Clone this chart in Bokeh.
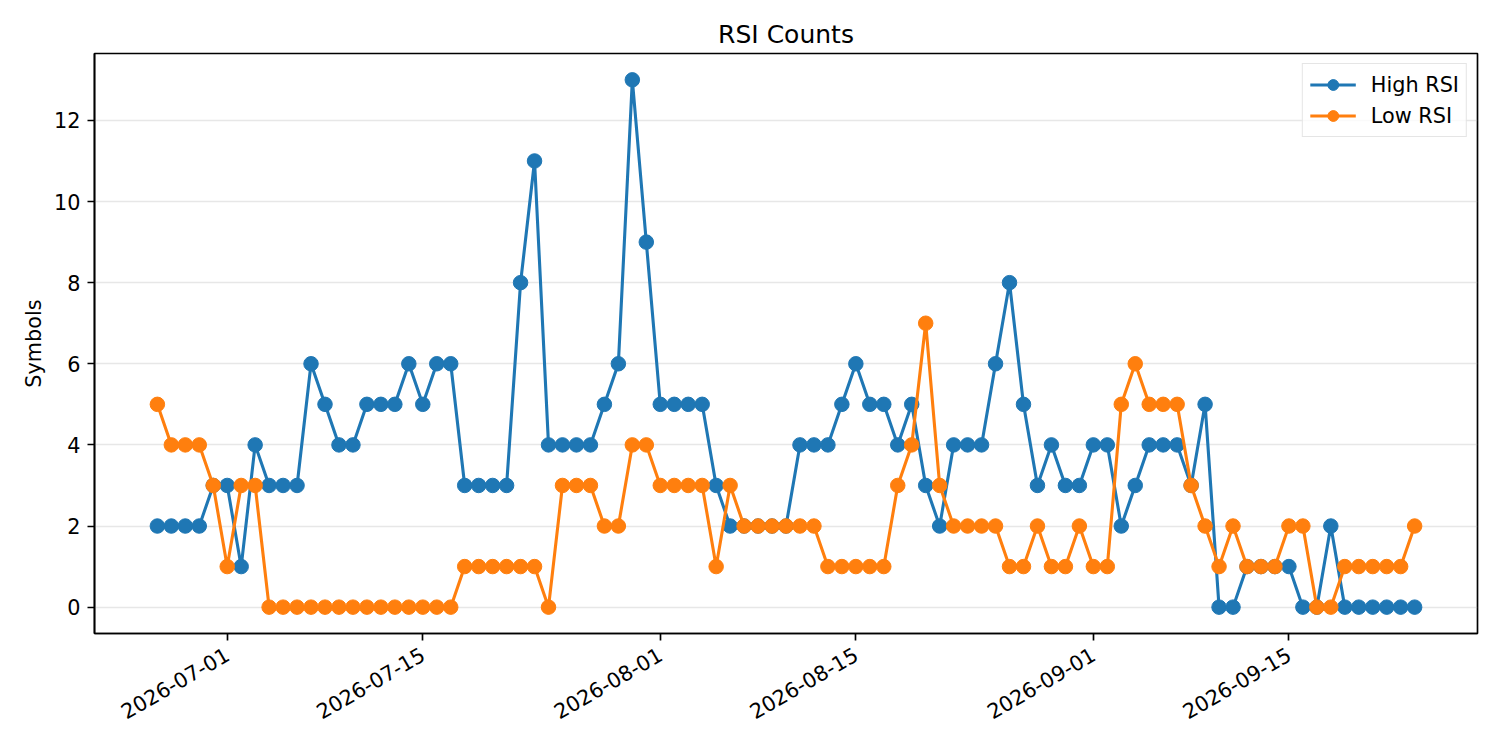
import pandas as pd
from math import pi
from bokeh.plotting import figure
from bokeh.models import FixedTicker, DatetimeTickFormatter, Range1d
from bokeh.embed import file_html
from bokeh.resources import INLINE

# daily counts starting on this date
start_date = "2026-06-26"

high_rsi = [2, 2, 2, 2, 3, 3, 1, 4, 3, 3, 3, 6, 5, 4, 4, 5, 5, 5, 6, 5, 6, 6,
            3, 3, 3, 3, 8, 11, 4, 4, 4, 4, 5, 6, 13, 9, 5, 5, 5, 5, 3, 2,
            2, 2, 2, 2, 4, 4, 4, 5, 6, 5, 5, 4, 5, 3, 2, 4, 4, 4, 6, 8, 5, 3, 4, 3,
            3, 4, 4, 2, 3, 4, 4, 4, 3, 5, 0, 0, 1, 1, 1, 1, 0, 0, 2, 0, 0, 0, 0, 0, 0]

low_rsi = [5, 4, 4, 4, 3, 1, 3, 3, 0, 0, 0, 0, 0, 0, 0, 0, 0, 0, 0, 0, 0, 0,
           1, 1, 1, 1, 1, 1, 0, 3, 3, 3, 2, 2, 4, 4, 3, 3, 3, 3, 1, 3,
           2, 2, 2, 2, 2, 2, 1, 1, 1, 1, 1, 3, 4, 7, 3, 2, 2, 2, 2, 1, 1, 2, 1, 1,
           2, 1, 1, 5, 6, 5, 5, 5, 3, 2, 1, 2, 1, 1, 1, 2, 2, 0, 0, 1, 1, 1, 1, 1, 2]

date_ticks = ["2026-07-01", "2026-07-15", "2026-08-01", "2026-08-15", "2026-09-01", "2026-09-15"]
y_ticks = [0, 2, 4, 6, 8, 10, 12]

FONT = "DejaVu Sans"
dates = pd.date_range(start_date, periods=len(high_rsi), freq="D")
pad = pd.Timedelta(hours=108)

p = figure(title="RSI Counts", x_axis_type="datetime",
           frame_width=1383, frame_height=580,
           min_border_left=94, min_border_right=7, min_border_top=53, min_border_bottom=101,
           x_range=Range1d(dates[0] - pad, dates[-1] + pad),
           y_range=Range1d(-0.65, 13.65),
           output_backend="svg", toolbar_location=None)

p.line(dates, high_rsi, line_color="#1f77b4", line_width=3.1, legend_label="High RSI")
p.scatter(dates, high_rsi, size=14.5, fill_color="#1f77b4", line_color="#1f77b4", legend_label="High RSI")
p.line(dates, low_rsi, line_color="#ff7f0e", line_width=3.1, legend_label="Low RSI")
p.scatter(dates, low_rsi, size=14.5, fill_color="#ff7f0e", line_color="#ff7f0e", legend_label="Low RSI")

p.title.align = "center"
p.title.text_font = FONT
p.title.text_font_size = "25px"
p.title.text_font_style = "normal"
p.title.text_color = "black"
p.title.standoff = 10

p.xaxis.ticker = FixedTicker(ticks=[pd.Timestamp(d).timestamp() * 1000 for d in date_ticks])
fmt = "%Y-%m-%d"
p.xaxis.formatter = DatetimeTickFormatter(days=fmt, months=fmt, hours=fmt, years=fmt)
p.xaxis.major_label_orientation = pi / 6
p.xaxis.major_label_standoff = 12
p.yaxis.ticker = FixedTicker(ticks=y_ticks)
p.yaxis.major_label_standoff = 7
p.yaxis.axis_label = "Symbols"
p.yaxis.axis_label_standoff = 5
p.yaxis.axis_label_text_font = FONT
p.yaxis.axis_label_text_font_size = "20.8px"
p.yaxis.axis_label_text_font_style = "normal"
p.yaxis.axis_label_text_color = "black"

for ax in (p.xaxis, p.yaxis):
    ax.major_label_text_font = FONT
    ax.major_label_text_font_size = "20.8px"
    ax.major_label_text_color = "black"
    ax.axis_line_color = "black"
    ax.axis_line_width = 1.67
    ax.major_tick_line_width = 1.67
    ax.major_tick_out = 7
    ax.major_tick_in = 0
    ax.minor_tick_line_color = None

p.xgrid.visible = False
p.ygrid.grid_line_color = "#b0b0b0"
p.ygrid.grid_line_alpha = 0.3
p.ygrid.grid_line_width = 1.67

p.outline_line_color = "black"
p.outline_line_width = 1.67
p.outline_line_alpha = 1.0

p.legend.location = "top_right"
p.legend.margin = 10
p.legend.padding = 7
p.legend.spacing = 4
p.legend.glyph_width = 46
p.legend.glyph_height = 27
p.legend.label_standoff = 15
p.legend.label_text_font = FONT
p.legend.label_text_font_size = "20.8px"
p.legend.label_text_color = "black"
p.legend.border_line_color = "#cccccc"
p.legend.border_line_width = 1.67
p.legend.background_fill_alpha = 0.8

open("out.html", "w").write(file_html(p, INLINE))
